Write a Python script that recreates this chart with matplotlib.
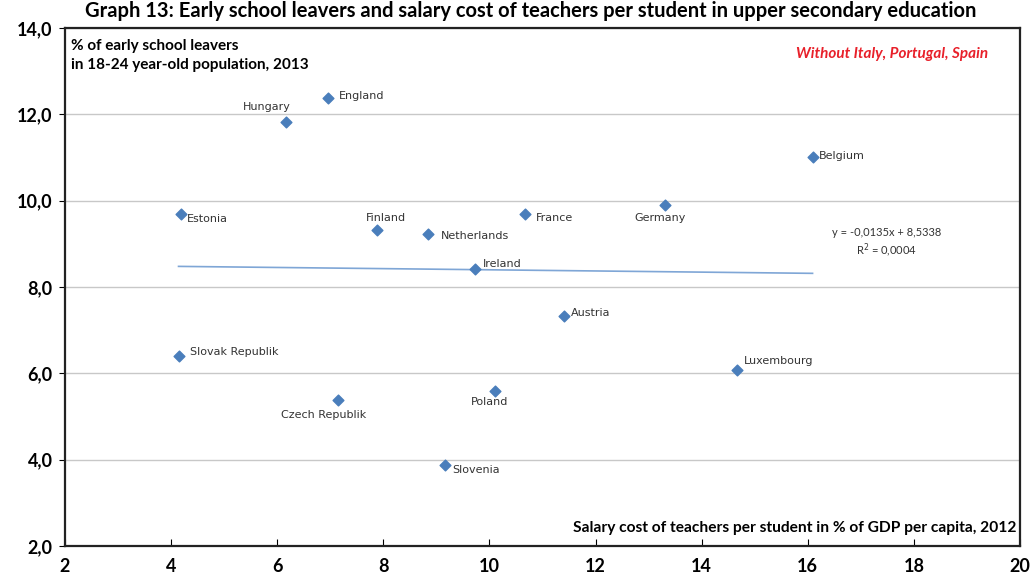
import matplotlib.pyplot as plt

plt.rcParams['font.family'] = ['Lato', 'DejaVu Sans']

# data
countries = ['England', 'Hungary', 'Belgium', 'Estonia', 'Finland', 'Netherlands',
             'France', 'Germany', 'Ireland', 'Austria', 'Slovak Republik',
             'Luxembourg', 'Czech Republik', 'Poland', 'Slovenia']
salary_cost = [6.95, 6.17, 16.09, 4.18, 7.89, 8.85, 10.67, 13.31, 9.73, 11.40,
               4.14, 14.66, 7.14, 10.11, 9.17]
early_leavers = [12.38, 11.83, 11.02, 9.70, 9.31, 9.22, 9.70, 9.91, 8.41, 7.33,
                 6.40, 6.08, 5.39, 5.59, 3.88]
slope, intercept = -0.0135, 8.5338

# label placement (pixel offsets, alignment)
offsets = {
    'England': (11, 2, 'left'), 'Hungary': (-19, 15, 'center'),
    'Belgium': (6, 1, 'left'), 'Estonia': (6, -5, 'left'),
    'Finland': (8, 12, 'center'), 'Netherlands': (12, -2, 'left'),
    'France': (11, -4, 'left'), 'Germany': (-5, -13, 'center'),
    'Ireland': (8, 5, 'left'), 'Austria': (7, 3, 'left'),
    'Slovak Republik': (11, 4, 'left'), 'Luxembourg': (7, 9, 'left'),
    'Czech Republik': (-14, -15, 'center'), 'Poland': (-6, -11, 'center'),
    'Slovenia': (7, -5, 'left'),
}

fig = plt.figure(figsize=(10.3, 5.79), dpi=100)
ax = fig.add_axes([0.0631, 0.057, 0.9272, 0.8946])

ax.set_xlim(2, 20)
ax.set_ylim(2, 14)
ax.set_xticks(range(2, 21, 2))
ax.set_yticks(range(2, 15, 2))
ax.set_yticklabels([f'{v},0' for v in range(2, 15, 2)])
ax.grid(axis='y', color='#c8c8c8', lw=1)
ax.set_axisbelow(True)
for s in ax.spines.values():
    s.set_color('#222222')
    s.set_linewidth(1.6)
ax.tick_params(axis='x', direction='in', length=5, labelsize=13, pad=9)
ax.tick_params(axis='y', direction='out', length=4, labelsize=13, pad=5)
for lab in ax.get_xticklabels() + ax.get_yticklabels():
    lab.set_fontweight('bold')

# trend line
x0, x1 = min(salary_cost), max(salary_cost)
ax.plot([x0, x1], [slope * x0 + intercept, slope * x1 + intercept],
        color='#7fa6d6', lw=1.2, zorder=2)

ax.scatter(salary_cost, early_leavers, marker='D', s=30, color='#4a7ebb', zorder=3)
for name, x, y in zip(countries, salary_cost, early_leavers):
    dx, dy, ha = offsets[name]
    ax.annotate(name, (x, y), xytext=(dx, dy), textcoords='offset pixels',
                ha=ha, va='center', fontsize=8, color='#333333',
                family='DejaVu Sans')

ax.text(0.86, 0.585, 'y = -0,0135x + 8,5338\nR$^2$ = 0,0004', transform=ax.transAxes,
        ha='center', va='center', fontsize=8, color='#333333', linespacing=1.3)

ax.text(0.006, 0.978, '% of early school leavers\nin 18-24 year-old population, 2013',
        transform=ax.transAxes, ha='left', va='top', fontsize=11, fontweight='bold',
        linespacing=1.4)
ax.text(0.967, 0.963, 'Without Italy, Portugal, Spain', transform=ax.transAxes,
        ha='right', va='top', fontsize=11, fontweight='bold', style='italic',
        color='#e8202a')
ax.text(0.996, 0.022, 'Salary cost of teachers per student in % of GDP per capita, 2012',
        transform=ax.transAxes, ha='right', va='bottom', fontsize=11.2, fontweight='bold')

fig.text(0.515, 1 - 1 / 579,
         'Graph 13: Early school leavers and salary cost of teachers per student in upper secondary education',
         ha='center', va='top', fontsize=14.5, fontweight='bold')

fig.savefig('out.png', dpi=100)
